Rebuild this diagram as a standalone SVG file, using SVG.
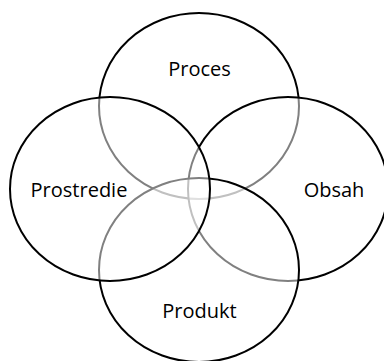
<svg xmlns="http://www.w3.org/2000/svg" width="384" height="361" viewBox="0 0 384 361">
<style>
.c{fill:#fff;fill-opacity:0.5;stroke:#000;stroke-width:2}
.t{font-family:"Open Sans","Liberation Sans",sans-serif;font-size:20px;fill:#000;text-anchor:middle}
</style>
<rect width="384" height="361" fill="#fff"/>
<g id="proces">
<ellipse class="c" cx="199" cy="106" rx="100" ry="93"/>
<text class="t" x="199.5" y="76">Proces</text>
</g>
<g id="obsah">
<ellipse class="c" cx="288" cy="189" rx="100" ry="92"/>
<text class="t" x="334" y="197">Obsah</text>
</g>
<g id="produkt">
<ellipse class="c" cx="199" cy="270" rx="100" ry="92"/>
<text class="t" x="199.5" y="318">Produkt</text>
</g>
<g id="prostredie">
<ellipse class="c" cx="110" cy="189" rx="100" ry="92"/>
<text class="t" x="79" y="197">Prostredie</text>
</g>
</svg>
